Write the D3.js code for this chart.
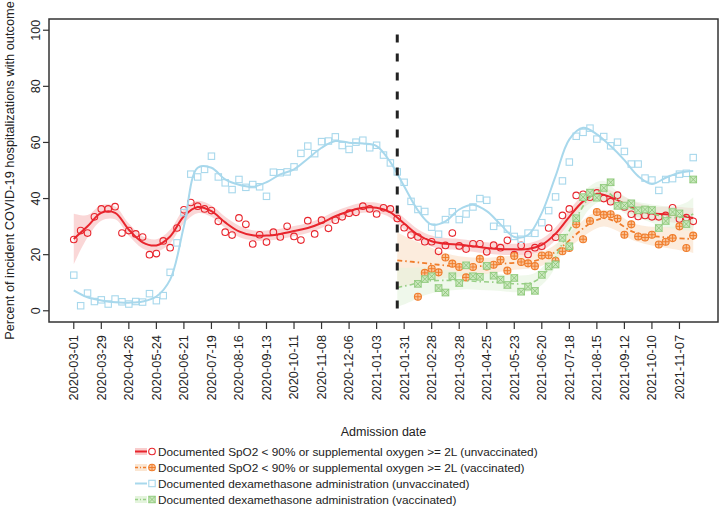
<!DOCTYPE html>
<html>
<head>
<meta charset="utf-8">
<script src="https://cdn.jsdelivr.net/npm/d3@7"></script>
<style>
  body { margin: 0; background: #fff; }
  text { font-family: "Liberation Sans", Arial, sans-serif; fill: #222; }
</style>
</head>
<body>
<div id="chart"></div>
<script>
// ---------------- data (weekly, starting 2020-03-01) ----------------
var firstWeek = "2020-03-01";
var vaxFirstWeek = 50;      // week index of the first vaccinated point
var cutWeek = 47;           // dashed reference line

var tickLabels = ["2020-03-01","2020-03-29","2020-04-26","2020-05-24","2020-06-21","2020-07-19",
  "2020-08-16","2020-09-13","2020-10-11","2020-11-08","2020-12-06","2021-01-03","2021-01-31",
  "2021-02-28","2021-03-28","2021-04-25","2021-05-23","2021-06-20","2021-07-18","2021-08-15",
  "2021-09-12","2021-10-10","2021-11-07"];
var yTicks = [0, 20, 40, 60, 80, 100];

// observed weekly percentages
var spo2Unvax = [25.4,28.6,27.7,33.5,36.3,36.3,37.1,27.7,28.6,27.4,
  26.3,20,20.4,24.9,22.5,29.5,36,38.6,37.3,36.3,
  35.7,31.9,28,27,33.1,30.8,23.8,27.1,24.5,28,
  26.3,30.1,26.5,25.2,32.1,27.4,32.3,29.4,32.3,33.5,
  34.8,35.1,37.3,36.3,34.5,36.7,36.3,32.9,29.6,27,
  26.3,24.6,24.6,21.2,23.3,27.7,23.1,22,23.9,23.9,
  21,23.4,22.5,25.1,20,23.3,20.1,22.5,23,29.5,
  26.2,34,36.3,41.1,41.5,40.5,42,40,38.9,41.2,
  37,34.4,33.6,34,33.5,33.5,34,36.7,32.7,33.2,
  31.9];
var dexaUnvax = [12.7,1.8,6.3,3.3,3.9,2.4,4.2,3.2,2.4,3.3,
  3.1,6.1,3.6,5.4,13.7,24.2,35,48.7,47.7,50.4,
  55.1,47.7,45.6,43.2,46.8,44,45,44.2,40.8,49.4,
  49.2,49.5,51.3,56.1,58.7,56,60.3,60.5,62,58.9,
  57.5,60.1,60.8,58.1,59,55.5,52.7,49.5,45.8,39,
  36.1,35.4,29.8,27.3,32.5,35.3,32.5,34.5,37,40,
  39.4,30.1,31.4,29.1,26.5,25.5,27.7,27.6,31.4,35.7,
  40.6,46.3,53,62.2,63.6,65.1,61.2,62.1,58.8,60.1,
  56.8,52.3,52.3,47.3,46.6,42.9,46.8,47.1,48.7,49,
  54.6];
var spo2Vax = [5,13.5,15,13.7,19,16.8,15.6,11.9,15.6,18.5,
  15.8,16.4,18.2,14.3,19.5,17.4,16.9,15.9,19.7,19.8,
  17.8,21.2,22.4,30.8,25.5,32,35.2,34.2,34.4,32.9,
  27.1,30.8,26.5,26.1,27.1,23.6,24.6,25.9,30.1,22.4,
  26.8];
var dexaVax = [9.6,11.3,12.3,8.1,6.5,12.3,9.9,16.2,12.3,12.1,
  16,12.5,11.1,9.2,11.7,6.8,8.6,7.1,12.8,15.8,
  16.5,26,23,33,40.5,42.1,40.3,43.8,45.8,37.4,
  37.5,38.3,35.8,36.1,35.9,29.5,32,35.2,34.7,30.9,
  46.8];

// smoothed curves and half-width of their bands
var fitWeeks = [0,2,4,6,8,10,12,14,16,18,20,22,24,26,28,30,32,34,36,38,40,42,44,
  46,48,50,52,54,56,58,60,62,64,66,68,70,72,74,76,78,80,82,84,86,88,90];
var spo2UnvaxFit = [25.6,30.1,34.9,34.9,28.9,24.4,23.3,26.5,33.7,37,35.5,31.5,28.3,26.9,
  26.8,27.4,28.4,29.5,31.3,33.7,35.5,36.7,36.7,35.1,31.1,27.1,24.8,23.9,23.6,23,22.4,
  22,21.9,22,23.5,27.5,33.5,39,41.7,40.5,38.2,35.8,34.7,34.4,34,33.1];
var spo2UnvaxSe = [9,4,2.8,2.3,2.2,2.2,2.2,2.4,2.5,2.2,2,2,2,1.8,1.8,1.8,1.8,1.8,1.8,1.8,
  1.8,1.8,1.8,1.9,2,2,2,2,2,2,2,2,2,2.1,2.2,2.3,2.4,2.4,2.4,2.4,2.4,2.5,2.5,2.7,3,3.5];
var dexaUnvaxFit = [7.3,4.8,3.7,3,2.9,3.3,5.1,11.1,30.1,51,51,46.8,44.9,44.2,45.8,48.6,
  50.4,54.2,58.1,60.5,59.9,59.6,58.7,53,44.4,35.8,30.7,31.9,36.1,37.8,35.5,30.8,26.3,27,
  34.9,48,61.1,65.2,62.9,58.7,53.7,48,45.2,47.4,49.2,49.8];

var vaxFitWeeks = [47,49,51,53,55,57,59,61,63,65,67,69,71,73,75,77,79,81,83,85,87,89,90];
var spo2VaxFit = [18,17.5,17,16.4,15.9,15.8,15.9,16.3,16.9,17.3,17.8,19.6,23,27.3,31.1,
  33,31.4,28.4,27,26.4,26,25.7,25.6];
var spo2VaxSe = [10,8,6.5,5,4,3.4,3,2.8,2.6,2.5,2.5,2.5,2.6,2.8,3,3,3,3,3.2,3.5,4,4.5,5];
var dexaVaxFit = [8.3,9.3,10.5,10.8,10.8,10.7,10.4,10.2,9.8,9.6,10.5,15,24,33,40.5,42.8,
  39.5,36.5,35.3,34,33.2,33.6,34.5];
var dexaVaxSe = [7,6,5,4,3.5,3,3,3,3,3,3,3.2,3.5,4,4,3.5,3,3,3,3.5,4,5,6];

var legendLabels = [
  "Documented SpO2 < 90% or supplemental oxygen >= 2L (unvaccinated)",
  "Documented SpO2 < 90% or supplemental oxygen >= 2L (vaccinated)",
  "Documented dexamethasone administration (unvaccinated)",
  "Documented dexamethasone administration (vaccinated)"
];

// ---------------- set up ----------------
var width = 720, height = 510;
var box = {left: 49, right: 718, top: 19, bottom: 322};

var parse = d3.timeParse("%Y-%m-%d");
var start = parse(firstWeek);
function weekDate(i) { return d3.timeDay.offset(start, 7 * i); }

var svg = d3.select("#chart").append("svg")
  .attr("width", width).attr("height", height);

// R style: 4% padding around the data range
var lastDate = weekDate(spo2Unvax.length - 1);
var pad = (lastDate - start) * 0.04;
var x = d3.scaleTime()
  .domain([new Date(+start - pad), new Date(+lastDate + pad)])
  .range([box.left, box.right]);
var y = d3.scaleLinear().domain([-4, 104]).range([box.bottom, box.top]);

var col = {
  red: "#e8252d", redBand: "#f9cdcd",
  orange: "#f07d2c", orangeBand: "#fbe6d2",
  blue: "#a8d8ec",
  green: "#98cf86", greenBand: "#e4f4dd", greenFill: "#cbe8bf", greenX: "#86c272"
};

function series(weeks, vals) {
  return vals.map(function(v, i) { return {d: weekDate(weeks[i]), v: v}; });
}
function bandSeries(weeks, vals, se) {
  return vals.map(function(v, i) { return {d: weekDate(weeks[i]), lo: v - se[i], hi: v + se[i]}; });
}
function points(offset, vals) {
  return vals.map(function(v, i) { return {d: weekDate(offset + i), v: v}; });
}

var line = d3.line().curve(d3.curveCatmullRom)
  .x(function(p) { return x(p.d); }).y(function(p) { return y(p.v); });
var area = d3.area().curve(d3.curveCatmullRom)
  .x(function(p) { return x(p.d); })
  .y0(function(p) { return y(p.lo); }).y1(function(p) { return y(p.hi); });

var plot = svg.append("g");

// ---------------- bands ----------------
plot.append("path").attr("d", area(bandSeries(fitWeeks, spo2UnvaxFit, spo2UnvaxSe)))
  .attr("fill", col.redBand).attr("opacity", 0.8);
plot.append("path").attr("d", area(bandSeries(vaxFitWeeks, spo2VaxFit, spo2VaxSe)))
  .attr("fill", col.orangeBand).attr("opacity", 0.75);
plot.append("path").attr("d", area(bandSeries(vaxFitWeeks, dexaVaxFit, dexaVaxSe)))
  .attr("fill", col.greenBand).attr("opacity", 0.6);

// ---------------- symbols ----------------
function drawCircles(data, color) {
  plot.append("g").selectAll("circle").data(data).enter().append("circle")
    .attr("cx", function(p) { return x(p.d); }).attr("cy", function(p) { return y(p.v); })
    .attr("r", 3.3).attr("fill", "none").attr("stroke", color).attr("stroke-width", 1.1);
}
function drawSquares(data, color) {
  plot.append("g").selectAll("rect").data(data).enter().append("rect")
    .attr("x", function(p) { return x(p.d) - 3.2; }).attr("y", function(p) { return y(p.v) - 3.2; })
    .attr("width", 6.4).attr("height", 6.4)
    .attr("fill", "none").attr("stroke", color).attr("stroke-width", 1.1);
}
function drawCirclePlus(data, color) {
  var g = plot.append("g").selectAll("g").data(data).enter().append("g")
    .attr("transform", function(p) { return "translate(" + x(p.d) + "," + y(p.v) + ")"; });
  g.append("circle").attr("r", 3.5).attr("fill", "#f9c49a").attr("stroke", color).attr("stroke-width", 1.1);
  g.append("path").attr("d", "M-3.5,0H3.5M0,-3.5V3.5").attr("stroke", color).attr("stroke-width", 1);
}
function drawSquareX(data) {
  var g = plot.append("g").selectAll("g").data(data).enter().append("g")
    .attr("transform", function(p) { return "translate(" + x(p.d) + "," + y(p.v) + ")"; });
  g.append("rect").attr("x", -3.3).attr("y", -3.3).attr("width", 6.6).attr("height", 6.6)
    .attr("fill", col.greenFill).attr("stroke", col.green).attr("stroke-width", 1.1);
  g.append("path").attr("d", "M-3.3,-3.3L3.3,3.3M-3.3,3.3L3.3,-3.3").attr("stroke", col.greenX).attr("stroke-width", 0.8);
}

// red: SpO2 unvaccinated
plot.append("path").attr("d", line(series(fitWeeks, spo2UnvaxFit)))
  .attr("fill", "none").attr("stroke", col.red).attr("stroke-width", 2);
drawCircles(points(0, spo2Unvax), col.red);

// orange: SpO2 vaccinated
plot.append("path").attr("d", line(series(vaxFitWeeks, spo2VaxFit)))
  .attr("fill", "none").attr("stroke", col.orange).attr("stroke-width", 1.8)
  .attr("stroke-dasharray", "5,3,1.5,3");
drawCirclePlus(points(vaxFirstWeek, spo2Vax), col.orange);

// blue: dexamethasone unvaccinated
plot.append("path").attr("d", line(series(fitWeeks, dexaUnvaxFit)))
  .attr("fill", "none").attr("stroke", col.blue).attr("stroke-width", 2);
drawSquares(points(0, dexaUnvax), col.blue);

// green: dexamethasone vaccinated
plot.append("path").attr("d", line(series(vaxFitWeeks, dexaVaxFit)))
  .attr("fill", "none").attr("stroke", col.green).attr("stroke-width", 1.6)
  .attr("stroke-dasharray", "5,3,1.5,3");
drawSquareX(points(vaxFirstWeek, dexaVax));

// dashed reference line
plot.append("line")
  .attr("x1", x(weekDate(cutWeek))).attr("x2", x(weekDate(cutWeek)))
  .attr("y1", y(98.5)).attr("y2", y(0))
  .attr("stroke", "#222").attr("stroke-width", 3).attr("stroke-dasharray", "8,11");

// ---------------- box and axes ----------------
svg.append("rect")
  .attr("x", box.left).attr("y", box.top)
  .attr("width", box.right - box.left).attr("height", box.bottom - box.top)
  .attr("fill", "none").attr("stroke", "#333").attr("stroke-width", 1.5);

var tickDates = tickLabels.map(parse);
var xAxis = svg.append("g");
xAxis.selectAll("line").data(tickDates).enter().append("line")
  .attr("x1", function(d) { return x(d); }).attr("x2", function(d) { return x(d); })
  .attr("y1", box.bottom).attr("y2", box.bottom + 7)
  .attr("stroke", "#333").attr("stroke-width", 1.2);
xAxis.selectAll("text").data(tickLabels).enter().append("text")
  .attr("transform", function(d, i) { return "translate(" + (x(tickDates[i]) + 4.4) + "," + (box.bottom + 13) + ") rotate(-90)"; })
  .attr("text-anchor", "end")
  .style("font-size", "12.8px")
  .text(function(d) { return d; });

var yAxis = svg.append("g");
yAxis.selectAll("line").data(yTicks).enter().append("line")
  .attr("x1", box.left - 6).attr("x2", box.left)
  .attr("y1", function(d) { return y(d); }).attr("y2", function(d) { return y(d); })
  .attr("stroke", "#333").attr("stroke-width", 1.2);
yAxis.selectAll("text").data(yTicks).enter().append("text")
  .attr("transform", function(d) { return "translate(" + (box.left - 9) + "," + y(d) + ") rotate(-90)"; })
  .attr("text-anchor", "middle")
  .style("font-size", "12.5px")
  .text(function(d) { return d; });

svg.append("text")
  .attr("transform", "translate(14," + ((box.top + box.bottom) / 2) + ") rotate(-90)")
  .attr("text-anchor", "middle").style("font-size", "12.8px")
  .text("Percent of incident COVID-19 hospitalizations with outcome");

svg.append("text")
  .attr("x", (box.left + box.right) / 2).attr("y", 436)
  .attr("text-anchor", "middle").style("font-size", "12.5px")
  .text("Admission date");

// ---------------- legend ----------------
var legendY = [451.5, 467.5, 483.5, 499.5];
var lg = svg.append("g");
var lx0 = 135, lx1 = 147, sx = 152, tx = 158;

// row 1
lg.append("rect").attr("x", lx0).attr("y", legendY[0] - 3.5).attr("width", lx1 - lx0).attr("height", 7).attr("fill", col.redBand);
lg.append("line").attr("x1", lx0).attr("x2", lx1).attr("y1", legendY[0]).attr("y2", legendY[0]).attr("stroke", col.red).attr("stroke-width", 2);
lg.append("circle").attr("cx", sx).attr("cy", legendY[0]).attr("r", 3.3).attr("fill", "none").attr("stroke", col.red).attr("stroke-width", 1.1);
// row 2
lg.append("rect").attr("x", lx0).attr("y", legendY[1] - 3.5).attr("width", lx1 - lx0).attr("height", 7).attr("fill", col.orangeBand);
lg.append("line").attr("x1", lx0).attr("x2", lx1).attr("y1", legendY[1]).attr("y2", legendY[1]).attr("stroke", col.orange).attr("stroke-width", 1.5).attr("stroke-dasharray", "3,2,1,2");
lg.append("circle").attr("cx", sx).attr("cy", legendY[1]).attr("r", 3.3).attr("fill", "#f9c49a").attr("stroke", col.orange).attr("stroke-width", 1.1);
lg.append("path").attr("d", "M" + (sx - 3.3) + "," + legendY[1] + "H" + (sx + 3.3) + "M" + sx + "," + (legendY[1] - 3.3) + "V" + (legendY[1] + 3.3)).attr("stroke", col.orange);
// row 3
lg.append("line").attr("x1", lx0).attr("x2", lx1).attr("y1", legendY[2]).attr("y2", legendY[2]).attr("stroke", col.blue).attr("stroke-width", 2);
lg.append("rect").attr("x", sx - 3.2).attr("y", legendY[2] - 3.2).attr("width", 6.4).attr("height", 6.4).attr("fill", "none").attr("stroke", col.blue).attr("stroke-width", 1.1);
// row 4
lg.append("rect").attr("x", lx0).attr("y", legendY[3] - 3.5).attr("width", lx1 - lx0).attr("height", 7).attr("fill", col.greenBand);
lg.append("line").attr("x1", lx0).attr("x2", lx1).attr("y1", legendY[3]).attr("y2", legendY[3]).attr("stroke", col.green).attr("stroke-width", 1.5).attr("stroke-dasharray", "3,2,1,2");
lg.append("rect").attr("x", sx - 3.2).attr("y", legendY[3] - 3.2).attr("width", 6.4).attr("height", 6.4).attr("fill", col.greenFill).attr("stroke", col.green).attr("stroke-width", 1.1);
lg.append("path").attr("d", "M" + (sx - 3.2) + "," + (legendY[3] - 3.2) + "L" + (sx + 3.2) + "," + (legendY[3] + 3.2) + "M" + (sx - 3.2) + "," + (legendY[3] + 3.2) + "L" + (sx + 3.2) + "," + (legendY[3] - 3.2)).attr("stroke", col.greenX).attr("stroke-width", 0.8);

lg.selectAll("text.lab").data(legendLabels).enter().append("text")
  .attr("class", "lab")
  .attr("x", tx).attr("y", function(d, i) { return legendY[i] + 4.2; })
  .style("font-size", "11.8px")
  .text(function(d) { return d; });
</script>
</body>
</html>
